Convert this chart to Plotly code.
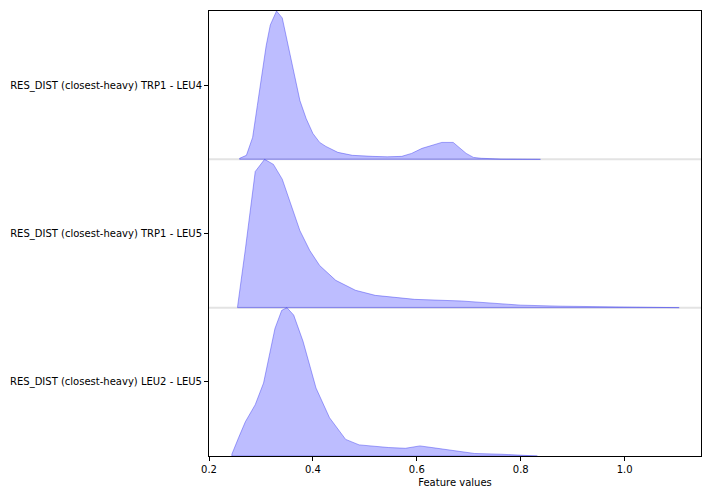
import plotly.graph_objects as go

labels = [
    "RES_DIST (closest-heavy) TRP1 - LEU4",
    "RES_DIST (closest-heavy) TRP1 - LEU5",
    "RES_DIST (closest-heavy) LEU2 - LEU5",
]

x_trp1_leu4 = [0.259, 0.272, 0.284, 0.293, 0.303, 0.310, 0.318, 0.330, 0.341, 0.352, 0.364, 0.375,
               0.387, 0.400, 0.413, 0.425, 0.448, 0.476, 0.514, 0.543, 0.571, 0.590, 0.610, 0.629,
               0.648, 0.670, 0.682, 0.695, 0.709, 0.724, 0.762, 0.838]
d_trp1_leu4 = [0.007, 0.027, 0.148, 0.362, 0.597, 0.765, 0.906, 1.0, 0.953, 0.765, 0.564, 0.396,
               0.275, 0.174, 0.114, 0.087, 0.047, 0.027, 0.020, 0.017, 0.020, 0.040, 0.074, 0.094,
               0.114, 0.114, 0.081, 0.040, 0.013, 0.007, 0.002, 0.0]

x_trp1_leu5 = [0.255, 0.270, 0.289, 0.307, 0.324, 0.341, 0.358, 0.375, 0.394, 0.413, 0.444, 0.482,
               0.520, 0.596, 0.686, 0.762, 0.800, 0.876, 0.990, 1.105]
d_trp1_leu5 = [0.007, 0.394, 0.918, 1.0, 0.966, 0.866, 0.691, 0.519, 0.385, 0.284, 0.184, 0.117,
               0.083, 0.056, 0.045, 0.027, 0.017, 0.010, 0.005, 0.002]

x_leu2_leu5 = [0.244, 0.257, 0.270, 0.289, 0.305, 0.327, 0.340, 0.350, 0.363, 0.381, 0.406, 0.432,
               0.463, 0.489, 0.546, 0.578, 0.606, 0.629, 0.673, 0.711, 0.762, 0.832]
d_leu2_leu5 = [0.012, 0.124, 0.231, 0.346, 0.492, 0.860, 0.982, 1.0, 0.950, 0.773, 0.458, 0.258,
               0.112, 0.075, 0.057, 0.052, 0.068, 0.057, 0.035, 0.017, 0.012, 0.0]

series = [(x_trp1_leu4, d_trp1_leu4), (x_trp1_leu5, d_trp1_leu5), (x_leu2_leu5, d_leu2_leu5)]
x_ticks = [0.2, 0.4, 0.6, 0.8, 1.0]

n = len(series)
fig = go.Figure()
for i, (xs, ds) in enumerate(series):
    off = n - 1 - i
    px = [xs[0]] + xs + [xs[-1], xs[0]]
    py = [off] + [off + d for d in ds] + [off, off]
    fig.add_trace(go.Scatter(x=px, y=py, mode="lines", fill="toself",
                             fillcolor="rgba(0,0,255,0.26)",
                             line=dict(color="rgba(60,60,240,0.45)", width=1),
                             hoverinfo="skip", showlegend=False))

for k in range(1, n):
    fig.add_shape(type="line", xref="paper", yref="y", x0=0, x1=1, y0=k, y1=k,
                  line=dict(color="#e3e3e3", width=2), layer="below")

fig.update_layout(
    width=712, height=496,
    margin=dict(l=204, r=10, t=10, b=38),
    plot_bgcolor="white", paper_bgcolor="white",
    font=dict(family="DejaVu Sans", size=10, color="black"),
    xaxis=dict(range=[0.2, 1.147], tickvals=x_ticks, ticktext=[f"{v:.1f}" for v in x_ticks],
               showgrid=False, zeroline=False, showline=True, mirror=True,
               linecolor="black", linewidth=1, ticks="outside", ticklen=4, tickcolor="black",
               title=dict(text="Feature values", standoff=4, font=dict(size=10))),
    yaxis=dict(range=[0, n], tickvals=[n - 1 - i + 0.5 for i in range(n)], ticktext=labels,
               showgrid=False, zeroline=False, showline=True, mirror=True,
               linecolor="black", linewidth=1, ticks="outside", ticklen=4, tickcolor="black"),
)

fig.write_html("out.html", config={"displayModeBar": False})

with open("out.html", "r", encoding="utf-8") as f:
    html = f.read()
html = html.replace("<head>", "<head><style>html,body{margin:0;padding:0;overflow:hidden}</style>", 1)
with open("out.html", "w", encoding="utf-8") as f:
    f.write(html)
